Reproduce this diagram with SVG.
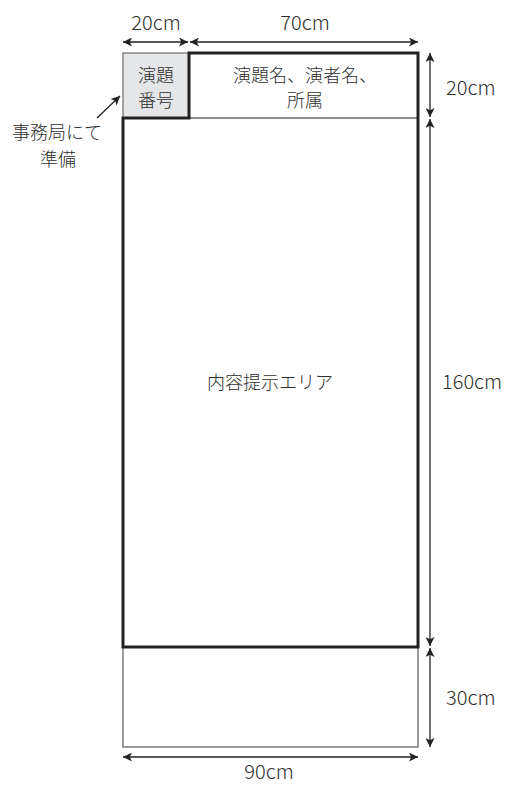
<svg xmlns="http://www.w3.org/2000/svg" width="505" height="785" viewBox="0 0 505 785">
<style>
text{font-family:"Noto Sans CJK JP","Noto Sans",sans-serif;font-size:18px;font-weight:300;fill:#2e2e2e;}
.c{text-anchor:middle;}
.m{font-size:20px;}
.thin{fill:none;stroke:#666;stroke-width:1.3;}
.thick{fill:none;stroke:#222;stroke-width:3;stroke-linejoin:miter;}
.dim{fill:none;stroke:#222;stroke-width:1.3;marker-start:url(#ah);marker-end:url(#ah);}
.lead{fill:none;stroke:#222;stroke-width:1.3;marker-end:url(#ah);}
</style>
<defs>
<marker id="ah" viewBox="0 0 10 10" refX="10" refY="5" markerUnits="userSpaceOnUse" markerWidth="11" markerHeight="9" orient="auto-start-reverse">
<path d="M0,0 L10,5 L0,10 L2.5,5 z" fill="#222"/>
</marker>
</defs>
<rect width="505" height="785" fill="#fff"/>
<g id="number-box">
<rect x="123" y="53" width="66" height="65" fill="#e5e6e8" stroke="#777" stroke-width="1.3"/>
<text class="c" x="156" y="82">演題</text>
<text class="c" x="156" y="107">番号</text>
</g>
<g id="header">
<line class="thin" x1="189" y1="118" x2="418" y2="118"/>
<text class="c" x="305" y="82">演題名、演者名、</text>
<text class="c" x="305" y="107">所属</text>
</g>
<g id="bottom-area">
<rect class="thin" x="123" y="647" width="295" height="100"/>
</g>
<g id="content-area">
<path class="thick" d="M189,53 H418 V647 H123 V118 H189 Z"/>
<text class="c" x="270" y="389">内容提示エリア</text>
</g>
<g id="note">
<text class="c" x="57" y="139">事務局にて</text>
<text class="c" x="58" y="166">準備</text>
</g>
<g id="connectors">
<line class="lead" x1="97" y1="118" x2="120" y2="96"/>
<line class="dim" x1="123" y1="42" x2="188" y2="42"/>
<line class="dim" x1="190" y1="42" x2="418" y2="42"/>
<line class="dim" x1="430" y1="53" x2="430" y2="117"/>
<line class="dim" x1="430" y1="119" x2="430" y2="646"/>
<line class="dim" x1="430" y1="648" x2="430" y2="747"/>
<line class="dim" x1="123" y1="757" x2="418" y2="757"/>
</g>
<g id="labels">
<text class="c m" x="156" y="30">20cm</text>
<text class="c m" x="305" y="30">70cm</text>
<text class="m" x="446" y="95">20cm</text>
<text class="m" x="442" y="389">160cm</text>
<text class="m" x="446" y="705">30cm</text>
<text class="c m" x="269" y="778.5">90cm</text>
</g>
</svg>
